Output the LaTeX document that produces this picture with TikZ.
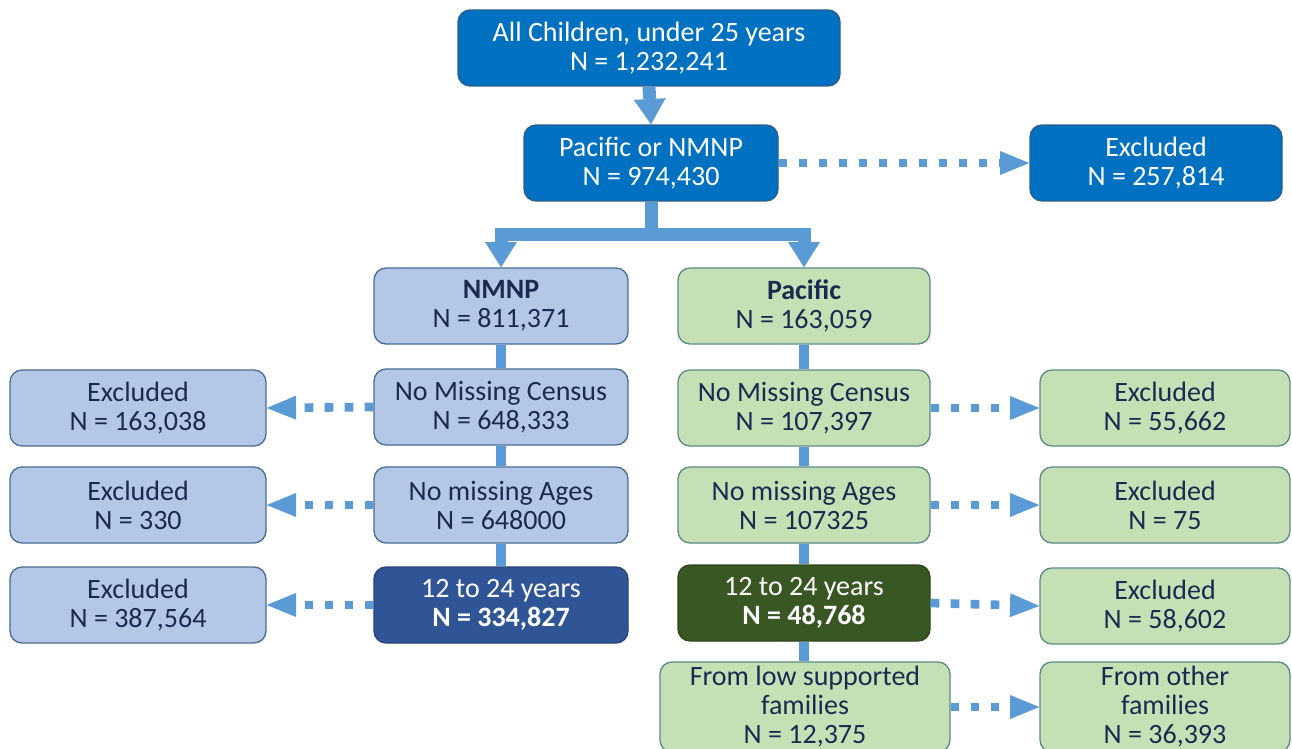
\documentclass[tikz,border=0pt]{standalone}
\usepackage{fontspec}
\setmainfont{Carlito}
\usetikzlibrary{arrows.meta,calc}
\definecolor{dblue}{HTML}{0070C0}
\definecolor{dbluebd}{HTML}{2E5F8A}
\definecolor{lblue}{HTML}{B4C7E7}
\definecolor{lbluebd}{HTML}{4A6C93}
\definecolor{lgreen}{HTML}{C5E0B4}
\definecolor{lgreenbd}{HTML}{5E8A86}
\definecolor{nblue}{HTML}{2F5597}
\definecolor{dgreen}{HTML}{385723}
\definecolor{conn}{HTML}{5B9BD5}
\definecolor{navytext}{HTML}{1B2A50}
\begin{document}
\begin{tikzpicture}[x=0.75pt,y=-0.75pt,
  box/.style={rounded corners=9pt, line width=1pt, align=center, inner sep=1pt,
    font=\fontsize{21}{21.75}\selectfont, minimum height=57pt},
  bluebox/.style={box, fill=dblue, draw=dbluebd, text=white},
  lbbox/.style={box, fill=lblue, draw=lbluebd, text=navytext},
  lgbox/.style={box, fill=lgreen, draw=lgreenbd, text=navytext},
  nbbox/.style={box, fill=nblue, draw=nblue!80!black, text=white},
  dgbox/.style={box, fill=dgreen, draw=dgreen!80!black, text=white},
  bigarrow/.style={draw=conn, line width=9.75pt, line join=miter,
    -{Triangle[width=24pt,length=19pt,line width=0pt 0 0]}},
  vline/.style={draw=conn, line width=7.5pt},
  dotarrow/.style={draw=conn, line width=6.5pt, dash pattern=on 6.5pt off 8.5pt,
    -{Triangle[width=18pt,length=22pt,line width=0pt 0 0]}}
]
\useasboundingbox (0,0) rectangle (1292,749);
\clip (0,0) rectangle (1292,749);

% top
\node[bluebox, minimum width=286.5pt] (all) at (649,48) {All Children, under 25 years\\N = 1,232,241};
\node[bluebox, minimum width=190.5pt] (pac) at (651,163) {Pacific or NMNP\\N = 974,430};
\node[bluebox, minimum width=189pt] (exTop) at (1156,163) {Excluded\\N = 257,814};

% second level
\node[lbbox, minimum width=190.5pt] (nmnp) at (501,306) {\textbf{NMNP}\\N = 811,371};
\node[lgbox, minimum width=189pt] (paci) at (804,306) {\textbf{Pacific}\\N = 163,059};

% row 1
\node[lbbox, minimum width=192pt] (exL1) at (138,408) {Excluded\\N = 163,038};
\node[lbbox, minimum width=190.5pt] (nmcL) at (501,407) {No Missing Census\\N = 648,333};
\node[lgbox, minimum width=189pt] (nmcR) at (804,408) {No Missing Census\\N = 107,397};
\node[lgbox, minimum width=187.5pt] (exR1) at (1165,408) {Excluded\\N = 55,662};

% row 2
\node[lbbox, minimum width=192pt] (exL2) at (138,505) {Excluded\\N = 330};
\node[lbbox, minimum width=190.5pt] (nmaL) at (501,505) {No missing Ages\\N = 648000};
\node[lgbox, minimum width=189pt] (nmaR) at (804,505) {No missing Ages\\N = 107325};
\node[lgbox, minimum width=187.5pt] (exR2) at (1165,505) {Excluded\\N = 75};

% row 3
\node[lbbox, minimum width=192pt] (exL3) at (138,605) {Excluded\\N = 387,564};
\node[nbbox, minimum width=190.5pt] (yL) at (501,605) {12 to 24 years\\\textbf{N = 334,827}};
\node[dgbox, minimum width=189pt] (yR) at (804,603) {12 to 24 years\\\textbf{N = 48,768}};
\node[lgbox, minimum width=187.5pt] (exR3) at (1165,606) {Excluded\\N = 58,602};

% row 4
\node[lgbox, minimum width=217.5pt, minimum height=67.5pt] (low) at (805,707) {From low supported\\families\\N = 12,375};
\node[lgbox, minimum width=187.5pt, minimum height=67.5pt] (other) at (1165,707) {From other\\families\\N = 36,393};

% connectors
\draw[bigarrow] (all.south) -- (pac.north);
\coordinate (split) at ($(pac.south)+(0,33)$);
\draw[bigarrow] (pac.south) -- (split) -| (nmnp.north);
\draw[bigarrow] (split) -| (paci.north);
\draw[dotarrow] (pac.east) -- (exTop.west);

\draw[vline] (nmnp.south) -- (nmcL.north);
\draw[vline] (nmcL.south) -- (nmaL.north);
\draw[vline] (nmaL.south) -- (yL.north);
\draw[vline] (paci.south) -- (nmcR.north);
\draw[vline] (nmcR.south) -- (nmaR.north);
\draw[vline] (nmaR.south) -- (yR.north);
\draw[vline] (yR.south) -- (yR.south |- low.north);

\draw[dotarrow] (nmcL.west) -- (exL1.east);
\draw[dotarrow] (nmaL.west) -- (exL2.east);
\draw[dotarrow] (yL.west) -- (exL3.east);
\draw[dotarrow] (nmcR.east) -- (exR1.west);
\draw[dotarrow] (nmaR.east) -- (exR2.west);
\draw[dotarrow] (yR.east) -- (exR3.west);
\draw[dotarrow] (low.east) -- (other.west);
\end{tikzpicture}
\end{document}
